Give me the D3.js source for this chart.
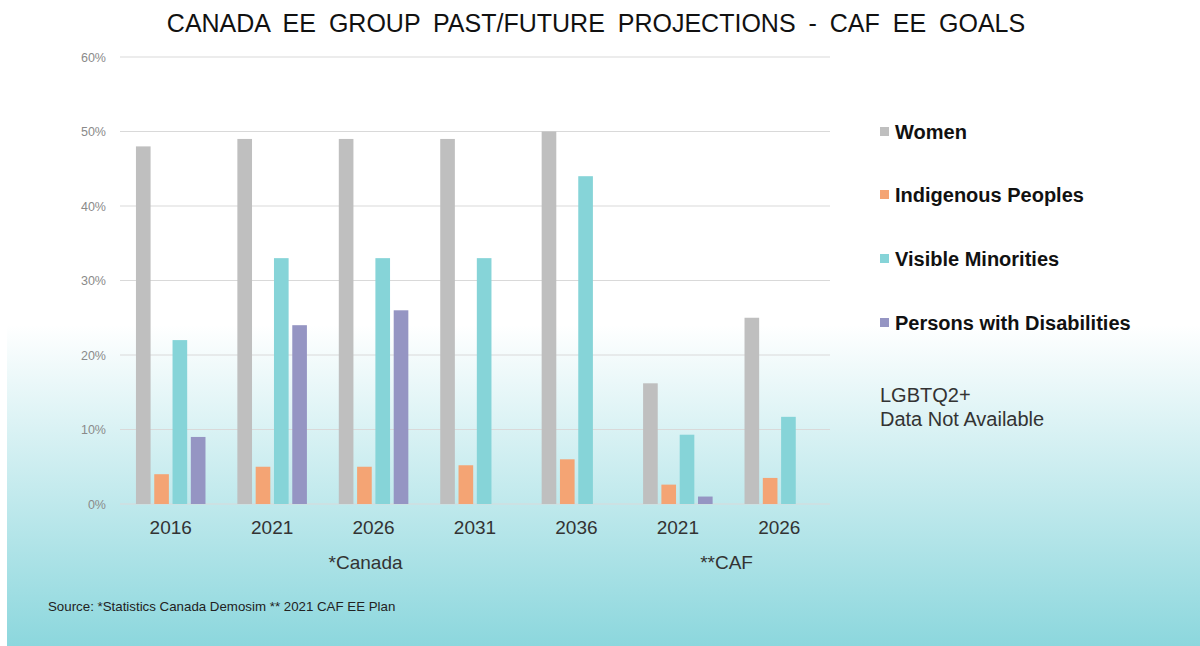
<!DOCTYPE html>
<html><head><meta charset="utf-8">
<script src="https://cdn.jsdelivr.net/npm/d3@7"></script>
<style>body{margin:0;background:#fff}svg{display:block}</style>
</head><body>
<svg id="c" width="1200" height="646"></svg>
<script>
const groups = ["2016","2021","2026","2031","2036","CAF2021","CAF2026"];
const groupLabels = ["2016","2021","2026","2031","2036","2021","2026"];
const seriesNames = ["Women","Indigenous Peoples","Visible Minorities","Persons with Disabilities"];
const seriesColors = ["#bfbfbf","#f4a474","#86d4d8","#9595c3"];
const women      = [48, 49, 49, 49, 50, 16.2, 25];
const indigenous = [4, 5, 5, 5.2, 6, 2.6, 3.5];
const visible    = [22, 33, 33, 33, 44, 9.3, 11.7];
const disabled   = [9, 24, 26, null, null, 1, null];
const yTicks = [0, 10, 20, 30, 40, 50, 60];
const seriesValues = [women, indigenous, visible, disabled];

const FONT = "Liberation Sans, Arial, sans-serif";
const svg = d3.select("#c");
const defs = svg.append("defs");
const g = defs.append("linearGradient").attr("id","bg").attr("x1",0).attr("y1",0).attr("x2",0).attr("y2",1);
g.append("stop").attr("offset","0%").attr("stop-color","#ffffff");
g.append("stop").attr("offset","100%").attr("stop-color","#8cd7dd");
svg.append("rect").attr("x",7).attr("y",325).attr("width",1193).attr("height",321).attr("fill","url(#bg)");

const x = d3.scaleBand().domain(groups).range([120, 830]);
const xi = d3.scaleBand().domain(d3.range(4)).range([0, 73.2]).paddingInner(0.2).paddingOuter(0.1);
const y = d3.scaleLinear().domain([0, 60]).range([504, 57]);

// gridlines
svg.append("g").selectAll("line").data(yTicks).join("line")
  .attr("x1",120).attr("x2",830).attr("y1",d=>y(d)).attr("y2",d=>y(d))
  .attr("stroke","#d9d9d9").attr("stroke-width",1.2);
svg.append("g").selectAll("text").data(yTicks).join("text")
  .attr("x",106).attr("y",d=>y(d)+4.5).attr("text-anchor","end")
  .attr("font-family",FONT).attr("font-size",12.5).attr("fill","#8a8a8a")
  .text(d=>d+"%");

// bars
const data = [];
groups.forEach((grp,gi)=>seriesValues.forEach((vals,si)=>{ if(vals[gi]!=null) data.push({grp,si,v:vals[gi]}); }));
svg.append("g").selectAll("rect").data(data).join("rect")
  .attr("x",d=>x(d.grp) + (x.bandwidth()-73.2)/2 + xi(d.si))
  .attr("width",xi.bandwidth())
  .attr("y",d=>y(d.v)).attr("height",d=>y(0)-y(d.v))
  .attr("fill",d=>seriesColors[d.si]);

// x labels
svg.append("g").selectAll("text").data(groups).join("text")
  .attr("x",d=>x(d)+x.bandwidth()/2).attr("y",534).attr("text-anchor","middle")
  .attr("font-family",FONT).attr("font-size",19).attr("fill","#333")
  .text((d,i)=>groupLabels[i]);
const canadaC = (x("2016") + x("2036") + x.bandwidth())/2;
const cafC = (x("CAF2021") + x("CAF2026") + x.bandwidth())/2;
svg.append("text").attr("x",canadaC-8).attr("y",569).attr("text-anchor","middle")
  .attr("font-family",FONT).attr("font-size",19).attr("fill","#333").text("*Canada");
svg.append("text").attr("x",cafC-2).attr("y",569).attr("text-anchor","middle")
  .attr("font-family",FONT).attr("font-size",19).attr("fill","#333").text("**CAF");

// title
svg.append("text").attr("x",596).attr("y",32).attr("text-anchor","middle")
  .attr("font-family",FONT).attr("font-size",25).attr("fill","#111")
  .attr("word-spacing",6)
  .text("CANADA EE GROUP PAST/FUTURE PROJECTIONS - CAF EE GOALS");

// legend
const legY = [132, 195, 259, 323];
const leg = svg.append("g").selectAll("g").data(seriesNames).join("g")
  .attr("transform",(d,i)=>`translate(880,${legY[i]})`);
leg.append("rect").attr("x",0).attr("y",-5).attr("width",9).attr("height",9).attr("fill",(d,i)=>seriesColors[i]);
leg.append("text").attr("x",15).attr("y",7).attr("font-family",FONT)
  .attr("font-size",20).attr("font-weight","bold").attr("fill","#111").text(d=>d);

svg.append("text").attr("x",880).attr("y",402).attr("font-family",FONT)
  .attr("font-size",20).attr("fill","#333").text("LGBTQ2+");
svg.append("text").attr("x",880).attr("y",426).attr("font-family",FONT)
  .attr("font-size",20).attr("fill","#333").text("Data Not Available");

// source
svg.append("text").attr("x",48).attr("y",611).attr("font-family",FONT)
  .attr("font-size",13.3).attr("fill","#222").text("Source: *Statistics Canada Demosim ** 2021 CAF EE Plan");
</script>
</body></html>
